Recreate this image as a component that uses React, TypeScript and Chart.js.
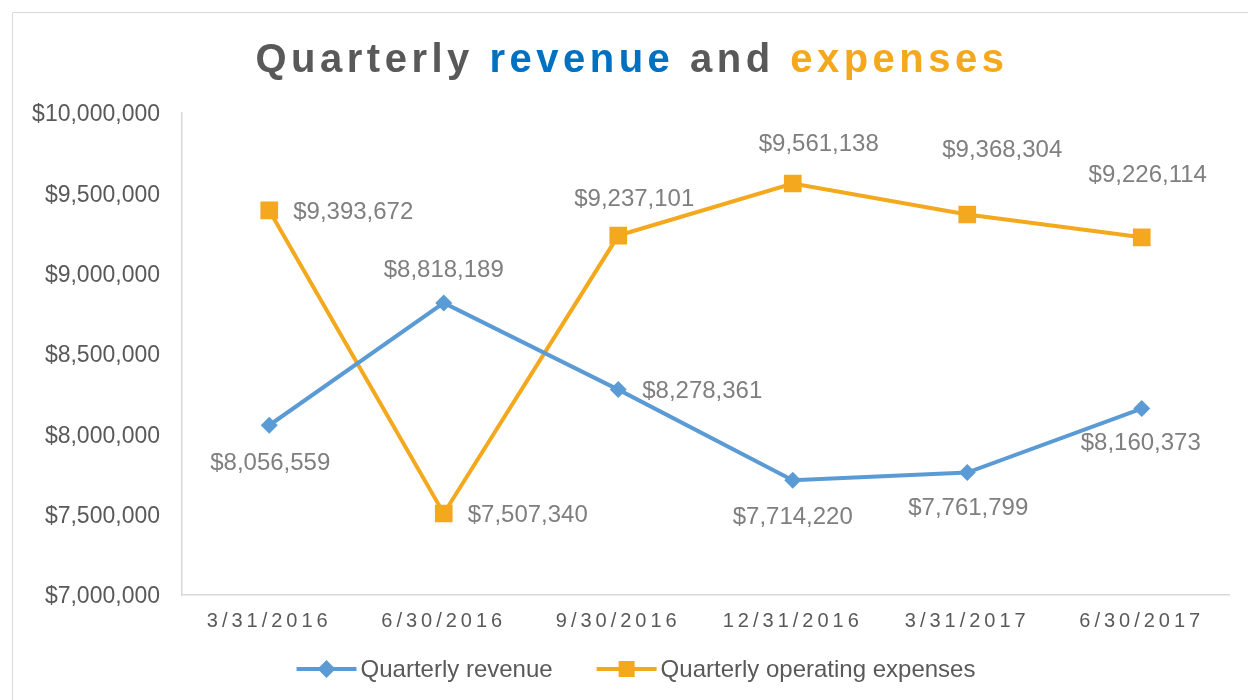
import React, { useEffect, useRef } from "react";
import { Chart, registerables } from "chart.js";

Chart.register(...registerables);

// ---- data ----
const quarters = ["3/31/2016", "6/30/2016", "9/30/2016", "12/31/2016", "3/31/2017", "6/30/2017"];
const revenue = [8056559, 8818189, 8278361, 7714220, 7761799, 8160373];
const expenses = [9393672, 7507340, 9237101, 9561138, 9368304, 9226114];
const seriesNames = ["Quarterly revenue", "Quarterly operating expenses"];
const yMin = 7000000;
const yMax = 10000000;
const yStep = 500000;
const titleParts = ["Quarterly ", "revenue", " and ", "expenses"];

// ---- styles ----
const GRAY = "#595959";
const LABEL_GRAY = "#7F7F7F";
const BLUE_LINE = "#5B9BD5";
const ORANGE = "#F4A81D";
const TITLE_BLUE = "#0070C0";
const AXIS = "#D9D9D9";
const FONT = "'Liberation Sans', Arial, sans-serif";
const titleColors = [GRAY, TITLE_BLUE, GRAY, ORANGE];

// label offsets (text centre relative to point), per series
const revenueLabelOffsets = [[1, 38], [0, -33], [84, 2], [0, 37], [1, 36], [-1, 35]];
const expenseLabelOffsets = [[84, 2], [84, 2], [16, -36], [26, -39], [35, -64], [6, -62]];
const labelOffsets = [revenueLabelOffsets, expenseLabelOffsets];

const money = (v: number) => "$" + Math.round(v).toLocaleString("en-US");

function drawDiamond(ctx: CanvasRenderingContext2D, x: number, y: number, r: number, color: string) {
  ctx.beginPath();
  ctx.moveTo(x, y - r);
  ctx.lineTo(x + r, y);
  ctx.lineTo(x, y + r);
  ctx.lineTo(x - r, y);
  ctx.closePath();
  ctx.fillStyle = color;
  ctx.fill();
}

const framePlugin = {
  id: "frame",
  beforeDraw(chart: any) {
    const ctx = chart.ctx as CanvasRenderingContext2D;
    ctx.save();
    ctx.fillStyle = "#ffffff";
    ctx.fillRect(0, 0, chart.width, chart.height);
    ctx.strokeStyle = AXIS;
    ctx.lineWidth = 1;
    ctx.beginPath();
    ctx.moveTo(12.5, chart.height);
    ctx.lineTo(12.5, 12.5);
    ctx.lineTo(chart.width, 12.5);
    ctx.stroke();
    ctx.restore();
  },
};

const titlePlugin = {
  id: "multiTitle",
  afterDraw(chart: any) {
    const ctx = chart.ctx as CanvasRenderingContext2D;
    ctx.save();
    ctx.font = `bold 40px ${FONT}`;
    (ctx as any).letterSpacing = "4.5px";
    ctx.textBaseline = "alphabetic";
    ctx.textAlign = "left";
    const widths = titleParts.map((t) => ctx.measureText(t).width);
    const total = widths.reduce((a, b) => a + b, 0);
    let x = 632 - total / 2;
    titleParts.forEach((t, i) => {
      ctx.fillStyle = titleColors[i];
      ctx.fillText(t, x, 72);
      x += widths[i];
    });
    ctx.restore();
  },
};

const dataLabelPlugin = {
  id: "dataLabels",
  afterDatasetsDraw(chart: any) {
    const ctx = chart.ctx as CanvasRenderingContext2D;
    ctx.save();
    ctx.font = `24px ${FONT}`;
    ctx.fillStyle = LABEL_GRAY;
    ctx.textAlign = "center";
    ctx.textBaseline = "middle";
    chart.data.datasets.forEach((ds: any, di: number) => {
      const meta = chart.getDatasetMeta(di);
      meta.data.forEach((pt: any, i: number) => {
        const [dx, dy] = labelOffsets[di][i];
        ctx.fillText(money(ds.data[i]), pt.x + dx, pt.y + dy);
      });
    });
    ctx.restore();
  },
};

const legendPlugin = {
  id: "customLegend",
  afterDraw(chart: any) {
    const ctx = chart.ctx as CanvasRenderingContext2D;
    ctx.save();
    ctx.font = `24px ${FONT}`;
    ctx.textBaseline = "middle";
    ctx.textAlign = "left";
    const y = 669;
    const lineLen = 60;
    const gapText = 4;
    const gapItems = 44;
    const ws = seriesNames.map((n) => ctx.measureText(n).width);
    const total = ws.reduce((a, b) => a + b, 0) + seriesNames.length * (lineLen + gapText) + gapItems;
    let x = 636 - total / 2;
    chart.data.datasets.forEach((ds: any, i: number) => {
      const color = ds.borderColor;
      ctx.strokeStyle = color;
      ctx.lineWidth = 4;
      ctx.beginPath();
      ctx.moveTo(x, y);
      ctx.lineTo(x + lineLen, y);
      ctx.stroke();
      const cx = x + lineLen / 2;
      if (i === 0) {
        drawDiamond(ctx, cx, y, 9, color);
      } else {
        ctx.fillStyle = color;
        ctx.fillRect(cx - 8, y - 8, 16, 16);
      }
      ctx.fillStyle = GRAY;
      ctx.fillText(seriesNames[i], x + lineLen + gapText, y + 1);
      x += lineLen + gapText + ws[i] + gapItems;
    });
    ctx.restore();
  },
};

const spacingPlugin = {
  id: "xLetterSpacing",
  afterUpdate(chart: any) {
    const sx = chart.scales.x;
    if (sx && !sx.__wrapped) {
      const orig = sx.drawLabels.bind(sx);
      sx.drawLabels = (area: any) => {
        const ctx = chart.ctx;
        ctx.save();
        ctx.letterSpacing = "4px";
        orig(area);
        ctx.restore();
      };
      sx.__wrapped = true;
    }
  },
};

export default function App() {
  const ref = useRef<HTMLCanvasElement | null>(null);

  useEffect(() => {
    if (!ref.current) return;
    const chart = new Chart(ref.current, {
      type: "line",
      data: {
        labels: quarters,
        datasets: [
          {
            label: seriesNames[0],
            data: revenue,
            borderColor: BLUE_LINE,
            backgroundColor: BLUE_LINE,
            borderWidth: 4,
            pointStyle: "rectRot",
            pointRadius: 8.5,
            pointBorderWidth: 0,
            pointBackgroundColor: BLUE_LINE,
            tension: 0,
          },
          {
            label: seriesNames[1],
            data: expenses,
            borderColor: ORANGE,
            backgroundColor: ORANGE,
            borderWidth: 4,
            pointStyle: "rect",
            pointRadius: 12.5,
            pointBorderWidth: 0,
            pointBackgroundColor: ORANGE,
            tension: 0,
          },
        ],
      },
      plugins: [framePlugin, spacingPlugin, dataLabelPlugin, titlePlugin, legendPlugin],
      options: {
        animation: false,
        responsive: false,
        devicePixelRatio: 1,
        layout: { padding: { top: 113, right: 19, bottom: 0, left: 0 } },
        plugins: {
          legend: { display: false },
          title: { display: false },
          tooltip: { enabled: false },
        },
        scales: {
          x: {
            type: "category",
            offset: true,
            grid: { display: false, drawTicks: false },
            border: { display: true, color: AXIS, width: 1.5 },
            ticks: {
              color: GRAY,
              font: { family: FONT, size: 20 },
              padding: 14,
              maxRotation: 0,
              autoSkip: false,
            },
            afterFit: (s: any) => {
              s.height = 105;
            },
          },
          y: {
            min: yMin,
            max: yMax,
            grid: { display: false, drawTicks: false },
            border: { display: true, color: AXIS, width: 1.5 },
            ticks: {
              stepSize: yStep,
              color: GRAY,
              font: { family: FONT, size: 23 },
              padding: 22,
              labelOffset: 2,
              callback: (v: any) => money(Number(v)),
            },
            afterFit: (s: any) => {
              s.width = 182;
            },
          },
        },
      },
    });
    return () => chart.destroy();
  }, []);

  return (
    <div style={{ position: "fixed", left: 0, top: 0, width: 1248, height: 700, background: "#fff" }}>
      <canvas ref={ref} width={1248} height={700} style={{ display: "block", width: 1248, height: 700 }} />
    </div>
  );
}
